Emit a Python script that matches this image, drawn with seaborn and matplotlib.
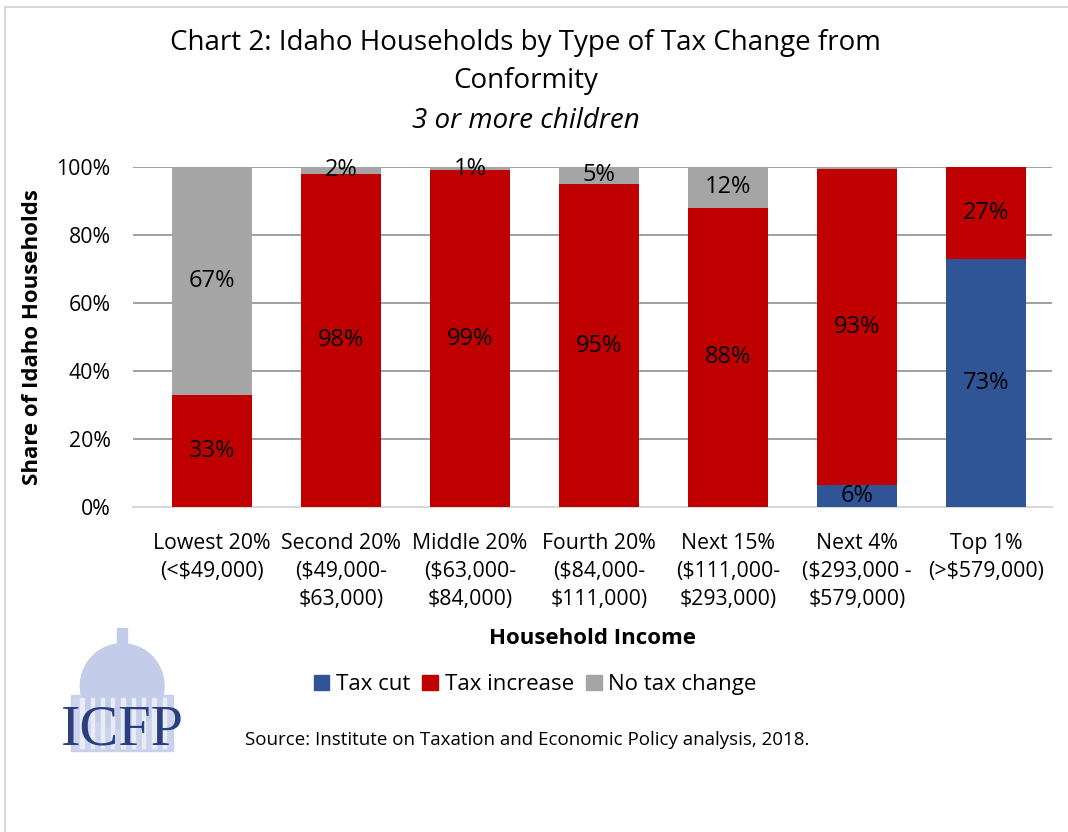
import matplotlib.pyplot as plt
import matplotlib.patches as mpatches
import numpy as np
import pandas as pd
import seaborn as sb

groups = ["Lowest 20%\n(<$49,000)", "Second 20%\n($49,000-\n$63,000)",
          "Middle 20%\n($63,000-\n$84,000)", "Fourth 20%\n($84,000-\n$111,000)",
          "Next 15%\n($111,000-\n$293,000)", "Next 4%\n($293,000 -\n$579,000)",
          "Top 1%\n(>$579,000)"]
tax_cut = [0, 0, 0, 0, 0, 6.4, 73]
tax_increase = [33, 98, 99, 95, 88, 93, 27]
no_change = [67, 2, 1, 5, 12, 0.6, 0]

series_names = ["Tax cut", "Tax increase", "No tax change"]
colors = ["#2F5597", "#C00000", "#A5A5A5"]

df = pd.DataFrame({"group": groups, "cut": tax_cut,
                   "inc": tax_increase, "none": no_change})
df["top_cut"] = df["cut"]
df["top_inc"] = df["cut"] + df["inc"]
df["top_none"] = df["top_inc"] + df["none"]

sb.set_style("white")
plt.rcParams["font.family"] = ["Open Sans", "DejaVu Sans"]
plt.rcParams["text.color"] = "black"
plt.rcParams["axes.labelcolor"] = "black"
plt.rcParams["xtick.color"] = "black"
plt.rcParams["ytick.color"] = "black"

fig = plt.figure(figsize=(10.68, 8.32), dpi=100)
ax = fig.add_axes([0.1245, 0.3906, 0.8605, 0.4087])

# stacked bars: draw cumulative totals from top layer down
for col, c in zip(["top_none", "top_inc", "top_cut"], colors[::-1]):
    sb.barplot(data=df, x="group", y=col, color=c, width=0.62,
               saturation=1, linewidth=0, ax=ax, zorder=3)

# segment labels centred in each segment
for i, row in df.iterrows():
    base = 0
    for val in [row["cut"], row["inc"], row["none"]]:
        if val >= 1:
            ax.text(i, base + val / 2, f"{val:.0f}%", ha="center", va="center",
                    fontsize=17, color="black", zorder=5)
        base += val

ax.set_ylim(0, 100)
ax.set_xlim(-0.61, 6.51)
ax.set_yticks(range(0, 101, 20))
ax.set_yticklabels([f"{v}%" for v in range(0, 101, 20)], fontsize=15.3)
ax.tick_params(axis="x", labelsize=15.3, length=0, pad=19)
ax.tick_params(axis="y", length=0, pad=16)
for lbl in ax.get_xticklabels():
    lbl.set_linespacing(1.43)
ax.yaxis.grid(True, color="#868686", linewidth=1.1, zorder=0)
ax.set_axisbelow(True)
for s in ["top", "right", "left"]:
    ax.spines[s].set_visible(False)
ax.spines["bottom"].set_color("#D9D9D9")
ax.spines["bottom"].set_linewidth(1.5)
ax.set_xlabel("Household Income", fontsize=16, fontweight="bold", labelpad=13)
ax.set_ylabel("Share of Idaho Households", fontsize=16, fontweight="bold", labelpad=10)

fig.text(0.492, 0.948, "Chart 2: Idaho Households by Type of Tax Change from",
         ha="center", va="center", fontsize=20)
fig.text(0.492, 0.903, "Conformity", ha="center", va="center", fontsize=20)
fig.text(0.492, 0.855, "3 or more children", ha="center", va="center",
         fontsize=20, style="italic")

handles = [mpatches.Patch(color=c, label=n) for c, n in zip(colors, series_names)]
fig.legend(handles=handles, loc="center", bbox_to_anchor=(0.501, 0.177), ncol=3,
           frameon=False, fontsize=16, handlelength=0.7, handleheight=0.7,
           handletextpad=0.3, columnspacing=0.55)

fig.text(0.229, 0.110, "Source: Institute on Taxation and Economic Policy analysis, 2018.",
         ha="left", va="center", fontsize=13.5)

# logo: dome sketch + ICFP
logo_ax = fig.add_axes([0.05, 0.08, 0.14, 0.17])
logo_ax.set_xlim(0, 10)
logo_ax.set_ylim(0, 10)
logo_ax.axis("off")
dome_c = "#C3CCE8"
logo_ax.add_patch(mpatches.Ellipse((4.6, 5.6), 5.6, 6.0, color=dome_c))
logo_ax.add_patch(mpatches.Rectangle((1.2, 1.0), 6.8, 4.0, color=dome_c, alpha=0.85))
logo_ax.add_patch(mpatches.Rectangle((4.25, 8.3), 0.7, 1.4, color=dome_c))
for xc in np.linspace(1.8, 7.3, 9):
    logo_ax.add_patch(mpatches.Rectangle((xc, 1.2), 0.22, 3.6, color="#E8ECF7"))
logo_ax.text(4.6, 2.5, "ICFP", ha="center", va="center", fontsize=42,
             family="Liberation Serif", color="#2B3F80")

# partial outer frame
fig.add_artist(plt.Line2D([0.0047, 0.0047], [0, 0.9916], color="#D9D9D9",
                          linewidth=1.5, transform=fig.transFigure))
fig.add_artist(plt.Line2D([0.0047, 1], [0.9916, 0.9916], color="#D9D9D9",
                          linewidth=1.5, transform=fig.transFigure))

plt.savefig("out.png", dpi=100)
